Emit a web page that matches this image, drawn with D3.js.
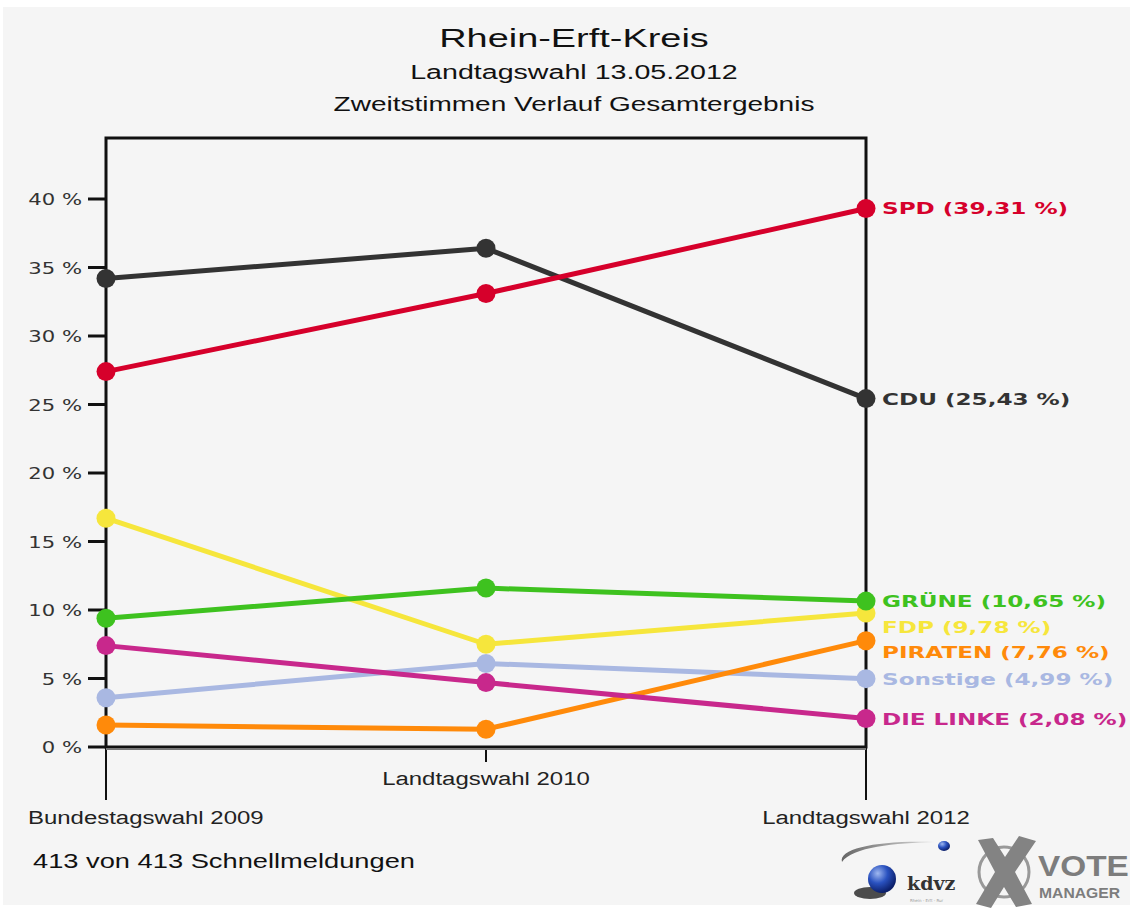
<!DOCTYPE html>
<html>
<head>
<meta charset="utf-8">
<script src="https://cdn.jsdelivr.net/npm/d3@7"></script>
<style>
  html, body { margin: 0; padding: 0; background: #fff; }
  svg { display: block; }
</style>
</head>
<body>
<svg width="1133" height="911"></svg>
<script>
// data
const elections = ["Bundestagswahl 2009", "Landtagswahl 2010", "Landtagswahl 2012"];
const parties = ["SPD", "CDU", "GRÜNE", "FDP", "PIRATEN", "Sonstige", "DIE LINKE"];
const spd = [27.4, 33.1, 39.31];
const cdu = [34.2, 36.4, 25.43];
const gruene = [9.4, 11.6, 10.65];
const fdp = [16.7, 7.5, 9.78];
const piraten = [1.6, 1.3, 7.76];
const sonstige = [3.6, 6.1, 4.99];
const linke = [7.4, 4.7, 2.08];
const yTicks = [0, 5, 10, 15, 20, 25, 30, 35, 40];

const values = {
    "SPD": spd, "CDU": cdu, "GRÜNE": gruene, "FDP": fdp,
    "PIRATEN": piraten, "Sonstige": sonstige, "DIE LINKE": linke
};
const colors = {
    "SPD": "#d6002b", "CDU": "#333333", "GRÜNE": "#3ec21f", "FDP": "#f6e63c",
    "PIRATEN": "#ff8a0a", "Sonstige": "#a9b8e2", "DIE LINKE": "#c8288c"
};
// which series lies on top of which
const drawOrder = ["Sonstige", "PIRATEN", "FDP", "DIE LINKE", "GRÜNE", "CDU", "SPD"];

const svg = d3.select("svg");

// stretch text horizontally, the source picture is widened
const stretch = (sel, k) => {
    sel.each(function () {
        const w = this.getComputedTextLength();
        d3.select(this).attr("textLength", w * k).attr("lengthAdjust", "spacingAndGlyphs");
    });
};

// background panel
svg.append("rect").attr("x", 3).attr("y", 7).attr("width", 1127).attr("height", 898)
    .attr("fill", "#f5f5f5");

// titles
const titles = [
    { t: "Rhein-Erft-Kreis", y: 47, size: 26.5, k: 1.43 },
    { t: "Landtagswahl 13.05.2012", y: 79, size: 20, k: 1.43 },
    { t: "Zweitstimmen Verlauf Gesamtergebnis", y: 111, size: 20, k: 1.4 }
];
titles.forEach((d) => {
    svg.append("text")
        .attr("x", 574).attr("y", d.y)
        .attr("text-anchor", "middle")
        .attr("font-family", "Liberation Sans, Arial, sans-serif")
        .attr("font-size", d.size)
        .attr("fill", "#111")
        .text(d.t)
        .call(stretch, d.k);
});

const x = d3.scalePoint().domain(elections).range([106, 866]);
const y = d3.scaleLinear().domain([0, 40]).range([747, 199]);
const frameTop = 138;

// category drop lines below the frame
elections.forEach((e, i) => {
    svg.append("line")
        .attr("x1", x(e)).attr("x2", x(e))
        .attr("y1", 747).attr("y2", i === 1 ? 762 : 800)
        .attr("stroke", "#111").attr("stroke-width", 2);
});

// frame
svg.append("rect")
    .attr("x", x(elections[0])).attr("y", frameTop)
    .attr("width", x(elections[2]) - x(elections[0]))
    .attr("height", y(0) - frameTop)
    .attr("fill", "none").attr("stroke", "#111").attr("stroke-width", 3);
svg.append("line")
    .attr("x1", x(elections[0])).attr("x2", x(elections[2]))
    .attr("y1", y(0) + 2).attr("y2", y(0) + 2)
    .attr("stroke", "#777").attr("stroke-width", 2);

// y axis ticks + labels
const yAxis = svg.append("g");
yAxis.selectAll("line").data(yTicks).join("line")
    .attr("x1", 88).attr("x2", x(elections[0]))
    .attr("y1", (d) => y(d)).attr("y2", (d) => y(d))
    .attr("stroke", "#111").attr("stroke-width", 3);
yAxis.selectAll("text").data(yTicks).join("text")
    .attr("x", 82).attr("y", (d) => y(d) + 6)
    .attr("text-anchor", "end")
    .attr("font-family", "DejaVu Sans, Verdana, sans-serif")
    .attr("font-size", 16)
    .attr("fill", "#333")
    .text((d) => d + " %")
    .call(stretch, 1.32);

// x labels, staggered
elections.forEach((e, i) => {
    const t = svg.append("text")
        .attr("y", i % 2 ? 785 : 824)
        .attr("font-family", "Liberation Sans, Arial, sans-serif")
        .attr("font-size", 18)
        .attr("fill", "#222")
        .text(e)
        .call(stretch, 1.33);
    const w = +t.attr("textLength");
    const left = Math.max(28, x(e) - w / 2);
    t.attr("x", left);
});

// lines and points
const line = d3.line().x((d, i) => x(elections[i])).y((d) => y(d));
drawOrder.forEach((p) => {
    const g = svg.append("g");
    g.append("path")
        .attr("d", line(values[p]))
        .attr("fill", "none")
        .attr("stroke", colors[p])
        .attr("stroke-width", 5)
        .attr("stroke-linejoin", "round");
    g.selectAll("circle").data(values[p]).join("circle")
        .attr("cx", (d, i) => x(elections[i]))
        .attr("cy", (d) => y(d))
        .attr("r", 9.5)
        .attr("fill", colors[p]);
});

// end labels, pushed apart so they do not overlap
const last = parties
    .map((p) => ({ p, v: values[p][2] }))
    .sort((a, b) => b.v - a.v);
let prev = -Infinity;
last.forEach((d) => {
    d.ly = Math.max(y(d.v), prev + 25.5);
    prev = d.ly;
});
svg.append("g").selectAll("text").data(last).join("text")
    .attr("x", 882)
    .attr("y", (d) => d.ly + 6)
    .attr("font-family", "DejaVu Sans, Verdana, sans-serif")
    .attr("font-weight", "bold")
    .attr("font-size", 16.5)
    .attr("fill", (d) => colors[d.p])
    .text((d) => `${d.p} (${d.v.toFixed(2).replace(".", ",")} %)`)
    .call(stretch, 1.4);

// footer
svg.append("text")
    .attr("x", 33).attr("y", 868)
    .attr("font-family", "Liberation Sans, Arial, sans-serif")
    .attr("font-size", 20.5)
    .attr("fill", "#111")
    .text("413 von 413 Schnellmeldungen")
    .call(stretch, 1.33);

// logos (kdvz + VoteManager), rough
const defs = svg.append("defs");
const ball = defs.append("radialGradient").attr("id", "ball").attr("cx", "35%").attr("cy", "30%").attr("r", "70%");
ball.append("stop").attr("offset", "0%").attr("stop-color", "#9fb8f0");
ball.append("stop").attr("offset", "50%").attr("stop-color", "#2a52c0");
ball.append("stop").attr("offset", "100%").attr("stop-color", "#0c1f6a");
const swoosh = defs.append("linearGradient").attr("id", "swoosh");
swoosh.append("stop").attr("offset", "0%").attr("stop-color", "#666");
swoosh.append("stop").attr("offset", "100%").attr("stop-color", "#ddd");

const logo = svg.append("g");
logo.append("path")
    .attr("d", "M842,862 C838,848 880,840 935,842 C895,843 852,847 842,862 Z")
    .attr("fill", "url(#swoosh)");
logo.append("ellipse").attr("cx", 944).attr("cy", 846).attr("rx", 6).attr("ry", 5)
    .attr("fill", "url(#ball)");
logo.append("ellipse").attr("cx", 870).attr("cy", 893).attr("rx", 16).attr("ry", 6)
    .attr("fill", "#222").attr("opacity", 0.8);
logo.append("circle").attr("cx", 882).attr("cy", 879).attr("r", 14)
    .attr("fill", "url(#ball)");
logo.append("text").attr("x", 907).attr("y", 890)
    .attr("font-family", "DejaVu Serif, serif").attr("font-weight", "bold")
    .attr("font-size", 19).attr("fill", "#333").text("kdvz");
logo.append("text").attr("x", 910).attr("y", 902)
    .attr("font-family", "DejaVu Sans, sans-serif").attr("font-size", 4)
    .attr("fill", "#999").text("Rhein - Erft - Rur");

logo.append("circle").attr("cx", 1004).attr("cy", 872).attr("r", 25)
    .attr("fill", "none").attr("stroke", "#999").attr("stroke-width", 3);
logo.append("path")
    .attr("d", "M978,840 L993,838 L1005,857 L1019,836 L1036,841 L1015,872 L1032,904 L1016,907 L1004,887 L991,908 L976,904 L995,872 Z")
    .attr("fill", "#838383");
logo.append("text").attr("x", 1038).attr("y", 876)
    .attr("font-family", "Liberation Sans, Arial, sans-serif").attr("font-weight", "bold")
    .attr("font-size", 29).attr("fill", "#7d7d7d").text("VOTE")
    .call(stretch, 1.15);
logo.append("text").attr("x", 1039).attr("y", 898)
    .attr("font-family", "Liberation Sans, Arial, sans-serif").attr("font-weight", "bold")
    .attr("font-size", 14).attr("fill", "#7d7d7d").text("MANAGER")
    .call(stretch, 1.12);
</script>
</body>
</html>
